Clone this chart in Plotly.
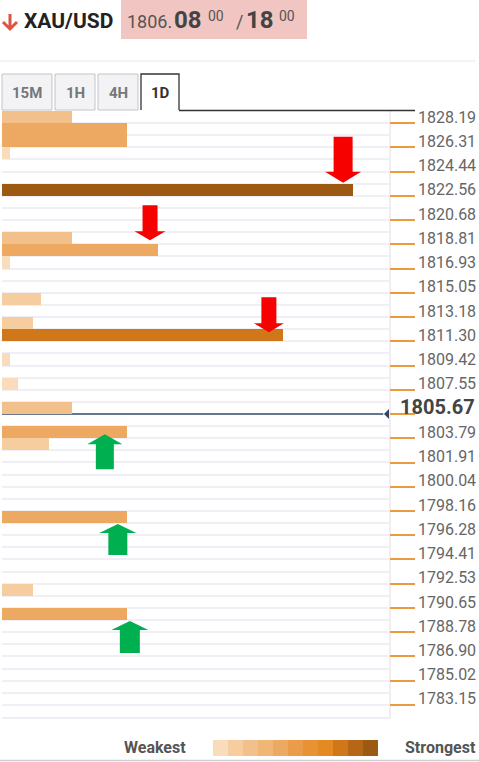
import plotly.graph_objects as go

# ---------------- data ----------------
level_labels = ["1828.19", "1826.31", "1824.44", "1822.56", "1820.68", "1818.81", "1816.93",
                "1815.05", "1813.18", "1811.30", "1809.42", "1807.55", "1805.67", "1803.79",
                "1801.91", "1800.04", "1798.16", "1796.28", "1794.41", "1792.53", "1790.65",
                "1788.78", "1786.90", "1785.02", "1783.15"]
level_values = [float(s) for s in level_labels]
current_price = 1805.67

bar_levels = [1828.19, 1827.25, 1826.31, 1825.38, 1822.56, 1818.81, 1817.87, 1816.93,
              1814.11, 1812.24, 1811.30, 1809.42, 1807.55, 1805.67, 1803.79, 1802.85,
              1797.22, 1791.59, 1789.71]
bar_strength = [9, 16, 16, 1, 45, 9, 20, 1, 5, 4, 36, 1, 2, 9, 16, 6, 16, 4, 16]

resistance_levels = [1822.56, 1817.87, 1811.30]
support_levels = [1803.79, 1797.22, 1789.71]

tabs = ["15M", "1H", "4H", "1D"]
active_tab = "1D"

# ---------------- style ----------------
PALETTE = ["#f9dcbb", "#f5cd9f", "#f2c18b", "#efb676", "#eda961", "#ea9c4b",
           "#e89236", "#e58a22", "#cf7719", "#b56617", "#9c5912"]
FONT = "Roboto"
W, H = 479, 762
PL, PR, PT, PB = 2, 389, 111, 717  # plot area in pixels

ROW = (level_values[0] - level_values[-1]) / (2 * (len(level_values) - 1))
Y_TOP = level_values[0] + ROW / 2
Y_BOT = level_values[0] - 49.5 * ROW
XMAX = 49.6

vmax = max(bar_strength)
bar_colors = [PALETTE[int(v / vmax * 10 + 0.5)] for v in bar_strength]
strength_at = dict(zip(bar_levels, bar_strength))


def px(x):
    return (x - PL) / (PR - PL)


def py(y):
    return (PB - y) / (PB - PT)


fig = go.Figure()
fig.add_trace(go.Bar(
    x=bar_strength, y=bar_levels, orientation="h", width=ROW,
    marker=dict(color=bar_colors, line=dict(width=0)), hoverinfo="skip",
))

# invisible trace for the underline axis
fig.add_trace(go.Scatter(x=[None], y=[None], yaxis="y2", showlegend=False, hoverinfo="skip"))

row_bounds = [Y_TOP - ROW * i for i in range(51)]
ticktext = ["" if abs(v - current_price) < 1e-6 else s for s, v in zip(level_labels, level_values)]

shapes = []
annotations = []

# current price line + marker
shapes.append(dict(type="line", xref="x", yref="y", x0=0, x1=XMAX * 0.985,
                   y0=current_price - ROW / 2, y1=current_price - ROW / 2,
                   line=dict(color="#3a4e6e", width=1.5), layer="between"))
shapes.append(dict(type="path", xref="x", yref="y", xsizemode="pixel", ysizemode="pixel",
                   xanchor=XMAX, yanchor=current_price - ROW / 2,
                   path="M 1,6 L -5,0 L 1,-6 Z", fillcolor="#2f4669", line=dict(width=0)))

# block arrows: (tip dx px, tip dy px, head half width, head height, shaft half width, shaft length)
red_style = [(-10, 7, 18, 11, 9.5, 35), (-8, 10, 15.5, 9, 7.5, 26), (-14, 3, 15, 9, 7.5, 26)]
green_style = [(-22, -2, 17.5, 10, 9, 25), (-9, -7, 18.5, 9, 9.5, 22), (3, -7, 18.5, 9, 10, 23)]


def arrow_path(dx, dy, hw, hh, sw, sl, d):
    # d = +1 for arrow pointing down (body above), -1 for arrow pointing up (body below)
    pts = [(dx, dy), (dx - hw, dy + d * hh), (dx - sw, dy + d * hh), (dx - sw, dy + d * (hh + sl)),
           (dx + sw, dy + d * (hh + sl)), (dx + sw, dy + d * hh), (dx + hw, dy + d * hh)]
    return "M " + " L ".join(f"{a:.1f},{b:.1f}" for a, b in pts) + " Z"


for lvl, st in zip(resistance_levels, red_style):
    shapes.append(dict(type="path", xref="x", yref="y", xsizemode="pixel", ysizemode="pixel",
                       xanchor=strength_at[lvl], yanchor=lvl, path=arrow_path(*st, 1),
                       fillcolor="#f70000", line=dict(width=0)))
for lvl, st in zip(support_levels, green_style):
    shapes.append(dict(type="path", xref="x", yref="y", xsizemode="pixel", ysizemode="pixel",
                       xanchor=strength_at[lvl], yanchor=lvl, path=arrow_path(*st, -1),
                       fillcolor="#00b050", line=dict(width=0)))

# ---------- header ----------
paper = dict(xref="paper", yref="paper")
shapes.append(dict(type="rect", **paper, x0=px(121), x1=px(307), y0=py(39), y1=py(0),
                   fillcolor="#f1c5c1", line=dict(width=0)))
shapes.append(dict(type="path", **paper,
                   path=f"M {px(10)},{py(14)} L {px(10)},{py(29)} M {px(3)},{py(22)} L {px(10)},{py(29)} L {px(17)},{py(22)}",
                   line=dict(color="#dd5540", width=3)))


def ann(x, y, text, size, color, bold=False, xanchor="left", yanchor="middle"):
    annotations.append(dict(**paper, x=px(x), y=py(y), text=f"<b>{text}</b>" if bold else text,
                            showarrow=False, xanchor=xanchor, yanchor=yanchor,
                            font=dict(family=FONT, size=size, color=color)))


ann(22, 21, "XAU/USD", 21, "#222222", bold=True)
ann(125, 22, "1806.", 18, "#555555")
ann(172, 20, "08", 24, "#444444", bold=True)
ann(206, 16, "00", 14, "#555555")
ann(234, 22, "/", 18, "#555555")
ann(244, 20, "18", 24, "#444444", bold=True)
ann(277, 16, "00", 14, "#555555")

# horizontal rule
shapes.append(dict(type="line", **paper, x0=px(0), x1=px(475), y0=py(61), y1=py(61),
                   line=dict(color="#e6e6e6", width=1)))

# tabs
tab_x = [(2, 52), (55, 95), (98, 138), (141, 179)]
for name, (a, b) in zip(tabs, tab_x):
    if name == active_tab:
        shapes.append(dict(type="rect", **paper, x0=px(a), x1=px(b), y0=py(110), y1=py(74),
                           fillcolor="white", line=dict(width=0)))
        shapes.append(dict(type="path", **paper,
                           path=f"M {px(a)},{py(110)} L {px(a)},{py(74)} L {px(b)},{py(74)} L {px(b)},{py(110)}",
                           line=dict(color="#333333", width=1.3)))
        ann((a + b) / 2, 93, name, 15, "#333333", bold=True, xanchor="center")
    else:
        shapes.append(dict(type="rect", **paper, x0=px(a), x1=px(b), y0=py(110), y1=py(74),
                           fillcolor="#f3f3f6", line=dict(color="#c4c4c8", width=1)))
        ann((a + b) / 2, 93, name, 15, "#777777", bold=True, xanchor="center")

# top dark line of chart
shapes.append(dict(type="line", **paper, x0=px(179), x1=px(415), y0=py(110.5), y1=py(110.5),
                   line=dict(color="#333333", width=1.3)))

# current price label
ann(477, 407, f"{current_price:.2f}", 20, "#444444", bold=True, xanchor="right")

# ---------- legend ----------
ann(188, 747, "Weakest", 16, "#555555", bold=True, xanchor="right")
ann(403, 747, "Strongest", 16, "#555555", bold=True)
sw_w = (378 - 213) / len(PALETTE)
for i, c in enumerate(PALETTE):
    shapes.append(dict(type="rect", **paper, x0=px(213 + i * sw_w), x1=px(213 + (i + 1) * sw_w),
                       y0=py(756), y1=py(740), fillcolor=c, line=dict(width=0)))
shapes.append(dict(type="line", **paper, x0=px(0), x1=px(479), y0=py(760.5), y1=py(760.5),
                   line=dict(color="#cfcfcf", width=1.5)))

fig.update_layout(
    width=W, height=H,
    margin=dict(l=PL, r=W - PR, t=PT, b=H - PB, pad=0),
    paper_bgcolor="white", plot_bgcolor="white",
    showlegend=False, bargap=0,
    xaxis=dict(range=[0, XMAX], showgrid=False, zeroline=False, showticklabels=False,
               ticks="", showline=True, linecolor="#eeeef3", linewidth=1.5, fixedrange=True),
    yaxis=dict(range=[Y_BOT, Y_TOP], side="right", tickmode="array", tickvals=level_values,
               ticktext=ticktext, ticks="outside", ticklen=24, tickcolor="rgba(0,0,0,0)",
               tickfont=dict(family=FONT, size=16, color="#666666"),
               showgrid=False, zeroline=False, showline=True, mirror=False,
               linecolor="#eeeef3", linewidth=1.5,
               minor=dict(tickmode="array", tickvals=row_bounds, showgrid=True,
                          gridcolor="#efeff5", gridwidth=2, ticks=""),
               fixedrange=True),
    yaxis2=dict(range=[Y_BOT, Y_TOP], overlaying="y", side="right", tickmode="array",
                tickvals=[v - ROW / 2 for v in level_values], ticks="outside", ticklen=25,
                tickwidth=1.5, tickcolor="#ec9a42", showticklabels=False, showgrid=False,
                zeroline=False, showline=False, fixedrange=True),
    shapes=shapes, annotations=annotations,
)

fig.write_html("out.html", config={"displayModeBar": False},
               post_script="document.body.style.margin='0';document.body.style.overflow='hidden';")
